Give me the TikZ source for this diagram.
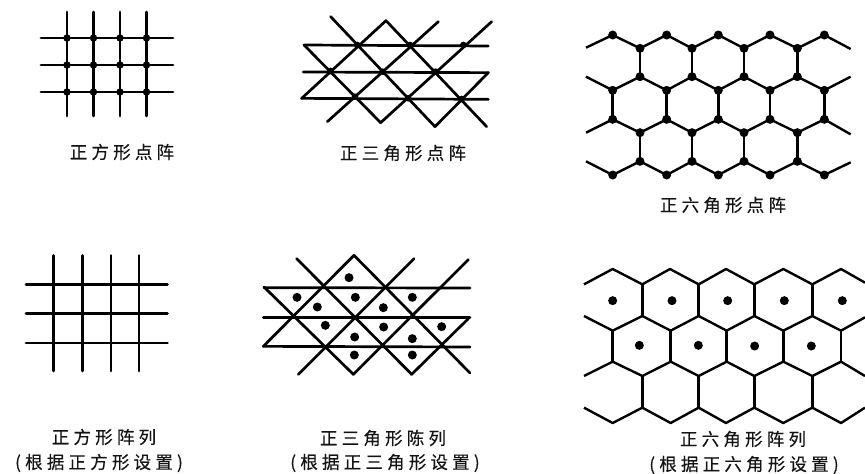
\documentclass[tikz,border=0pt]{standalone}
\usepackage{fontspec}
\setmainfont{Noto Sans CJK SC}[LetterSpace=24,FakeBold=0.3]
\tikzset{
  grid line/.style={line width=2.7pt,black,line cap=round,line join=miter},
  hex line/.style={line width=2.4pt,black,line cap=butt,line join=round},
  lab/.style={inner sep=0pt,font=\fontsize{17.5}{20}\selectfont,text=black!92},
}
\newcommand{\blob}[2]{\fill[black] (#1,#2) circle (10);}
\newcommand{\dotmark}[2]{\fill[black] (#1,#2) circle (13.5);}
\begin{document}
\begin{tikzpicture}[x=1pt,y=-1pt]
\useasboundingbox (0,0) rectangle (865,474);
% ---- square lattice
\foreach \x in {67,93.5,120,146.5}{
  \draw[grid line] (\x,12) -- (\x,116);
  \foreach \y in {38,65,92}{\fill (\x,\y) circle (3.7);}
}
\foreach \y in {38,65,92}{\draw[grid line] (41,\y) -- (173,\y);}
% ---- square array
\foreach \x in {53.3,82.3,111,139}{\draw[grid line] (\x,255.5) -- (\x,371);}
\foreach \y in {284.5,313.5,343}{\draw[grid line] (26,\y) -- (167.5,\y);}
% ---- triangular lattice
\begin{scope}[x=0.33333pt,y=-0.33333pt,shift={(270pt,0pt)}]
\draw[grid line] (102,135) -- (655,138);
\draw[grid line] (100,216) -- (655,218);
\draw[grid line] (95,295) -- (655,298);
\draw[grid line] (182,50) -- (495,380);
\draw[grid line] (348,62) -- (650,380);
\draw[grid line] (102,135) -- (332,368);
\draw[grid line] (172,365) -- (505,65);
\draw[grid line] (332,368) -- (665,65);
\draw[grid line] (95,295) -- (348,62);
\draw[grid line] (495,380) -- (655,218);
\foreach \p/\q in {262/135,420/135,580/135,182/213,338/215,497/215,255/290,415/295,575/297}{\blob{\p}{\q}}
\end{scope}
% ---- triangular array
\begin{scope}[x=0.33333pt,y=-0.33333pt,shift={(250pt,-237pt)}]
\draw[grid line] (42,152) -- (660,153);
\draw[grid line] (40,242) -- (660,242);
\draw[grid line] (40,328) -- (660,330);
\draw[grid line] (140,65) -- (485,412);
\draw[grid line] (312,55) -- (660,408);
\draw[grid line] (42,150) -- (310,412);
\draw[grid line] (145,412) -- (492,65);
\draw[grid line] (310,412) -- (655,68);
\draw[grid line] (40,328) -- (312,55);
\draw[grid line] (485,412) -- (655,245);
\foreach \p/\q in {297/122,141/181,202/210,316/181,400/212,487/181,226/265,401/270,575/269,314/300,487/305,313/354,487/354}{\dotmark{\p}{\q}}
\end{scope}
% ---- hexagonal lattice
\begin{scope}[x=0.33333pt,y=-0.33333pt,shift={(540pt,0pt)}]
\draw[hex line] (138,143)--(218,105)--(300,145)--(380,105)--(456,145)--(535,105)--(612,145)--(690,105)--(772,145)--(853,105)--(932,147);
\draw[hex line] (138,230)--(218,271)--(300,230)--(380,271)--(456,230)--(535,271)--(612,230)--(690,271)--(772,230)--(853,271)--(932,230);
\draw[hex line] (138,398)--(218,358)--(300,398)--(380,358)--(456,398)--(535,358)--(612,398)--(690,358)--(772,398)--(853,358)--(932,403);
\draw[hex line] (138,484)--(218,525)--(300,484)--(380,525)--(456,484)--(535,525)--(612,484)--(690,525)--(772,484)--(853,525)--(932,487);
\foreach \p in {300,456,612,772}{
  \draw[hex line] (\p,145)--(\p,230);
  \draw[hex line] (\p,398)--(\p,484);
  \foreach \q in {145,230,398,484}{\dotmark{\p}{\q}}
}
\foreach \p in {218,380,535,690,853}{
  \draw[hex line] (\p,271)--(\p,358);
  \foreach \q in {105,271,358,525}{\dotmark{\p}{\q}}
}
\end{scope}
% ---- hexagonal array
\begin{scope}[x=0.33333pt,y=-0.33333pt,shift={(540pt,-240pt)}]
\draw[hex line] (132,133)--(218,87)--(307,133)--(390,87)--(476,133)--(558,87)--(643,133)--(730,87)--(817,133)--(903,87)--(975,128);
\draw[hex line] (132,228)--(218,272)--(307,228)--(392,272)--(476,228)--(560,272)--(643,228)--(730,272)--(817,228)--(903,272)--(975,232);
\draw[hex line] (132,408)--(218,365)--(307,408)--(392,365)--(476,408)--(560,365)--(643,408)--(730,365)--(817,408)--(903,365)--(975,408);
\draw[hex line] (132,503)--(218,549)--(307,503)--(392,549)--(476,503)--(558,549)--(643,503)--(730,549)--(817,503)--(903,549)--(975,503);
\foreach \p in {307,476,643,817}{
  \draw[hex line] (\p,133)--(\p,228);
  \draw[hex line] (\p,408)--(\p,503);
}
\foreach \p in {218,392,560,730,903}{\draw[hex line] (\p,272)--(\p,365);}
\foreach \p/\q in {218/182,396/182,563/182,733/182,907/182,298/316,475/316,644/318,814/318}{\dotmark{\p}{\q}}
\end{scope}
% ---- labels
\node[lab] (l1) at (122,152) {正方形点阵};
\node[lab] (l2) at (403,153) {正三角形点阵};
\node[lab] (l3) at (723,205) {正六角形点阵};
\node[lab] (l4) at (104,437) {正方形阵列};
\node[lab] (l4b) at (99,463) {(根据正方形设置)};
\node[lab] (l5) at (383,438) {正三角形陈列};
\node[lab] (l5b) at (385,463) {(根据正三角形设置)};
\node[lab] (l6) at (743,439) {正六角形阵列};
\node[lab] (l6b) at (744,465) {(根据正六角形设置)};
\end{tikzpicture}
\end{document}
